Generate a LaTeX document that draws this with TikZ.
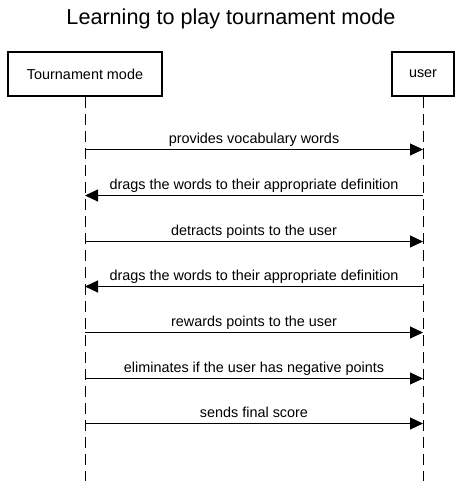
\documentclass[tikz,border=0pt]{standalone}
\usepackage{fontspec}
\setmainfont{Liberation Sans}
\usetikzlibrary{arrows.meta}
\begin{document}
\begin{tikzpicture}[x=1pt,y=-1pt,
  actor/.style={draw=black,line width=2pt,minimum height=44pt,inner sep=0pt,font=\fontsize{14.4}{17}\selectfont},
  lifeline/.style={draw=black,line width=1pt,dash pattern=on 11pt off 6pt},
  msg/.style={draw=black,line width=1pt,-{Triangle[length=13pt,width=12pt]}},
  msglabel/.style={font=\fontsize{14.4}{17}\selectfont,anchor=base,inner sep=0pt,text=black},
  titlestyle/.style={font=\fontsize{21.6}{26}\selectfont,anchor=base,inner sep=0pt,text=black}]
\useasboundingbox (0,0) rectangle (462,481);
\node[titlestyle] (title) at (231,25) {Learning to play tournament mode};
\node[actor,minimum width=154pt] (tm) at (85,74) {Tournament mode};
\node[actor,minimum width=62pt] (us) at (423,74) {user};
\coordinate (tmend) at (85,481);
\coordinate (usend) at (423,481);
\draw[lifeline] (tm.south) -- (tmend);
\draw[lifeline] (us.south) -- (usend);
\foreach \i/\y in {1/149.5,2/195.5,3/241.5,4/286.5,5/332.5,6/378.5,7/423.5}{
  \coordinate (t\i) at (85,\y);
  \coordinate (u\i) at (423,\y);
}
\draw[msg] (t1) -- node[msglabel,yshift=6.5pt]{provides vocabulary words} (u1);
\draw[msg] (u2) -- node[msglabel,yshift=6.5pt]{drags the words to their appropriate definition} (t2);
\draw[msg] (t3) -- node[msglabel,yshift=6.5pt]{detracts points to the user} (u3);
\draw[msg] (u4) -- node[msglabel,yshift=6.5pt]{drags the words to their appropriate definition} (t4);
\draw[msg] (t5) -- node[msglabel,yshift=6.5pt]{rewards points to the user} (u5);
\draw[msg] (t6) -- node[msglabel,yshift=6.5pt]{eliminates if the user has negative points} (u6);
\draw[msg] (t7) -- node[msglabel,yshift=6.5pt]{sends final score} (u7);
\end{tikzpicture}
\end{document}
